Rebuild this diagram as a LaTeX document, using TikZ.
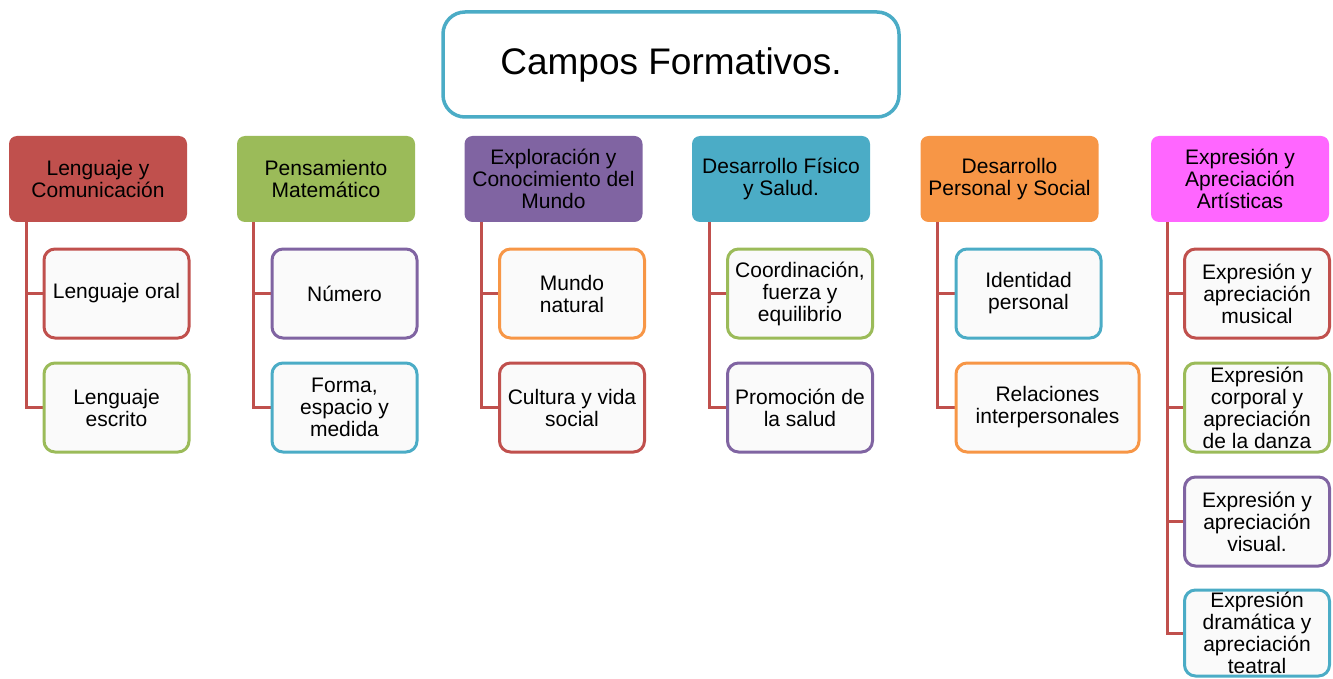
\documentclass[tikz,border=0pt]{standalone}
\usepackage{fontspec}
\setmainfont{Liberation Sans}
\usetikzlibrary{backgrounds}
\definecolor{cRed}{HTML}{C0504D}
\definecolor{cGreen}{HTML}{9BBB59}
\definecolor{cPurple}{HTML}{8064A2}
\definecolor{cBlue}{HTML}{4BACC6}
\definecolor{cOrange}{HTML}{F79646}
\definecolor{cPink}{HTML}{FF66FF}
\tikzset{
  txt/.style={font=\fontsize{21}{22}\selectfont, align=center, text=black, inner sep=0pt},
  titlebox/.style={draw=cBlue, line width=3.5pt, rounded corners=22pt, fill=white,
    minimum width=456pt, minimum height=105pt, inner sep=0pt, font=\fontsize{37}{40}\selectfont},
  hdr/.style={txt, rounded corners=8pt, minimum width=178pt, minimum height=86pt},
  leaf/.style={txt, draw, line width=3pt, rounded corners=11pt, fill=black!2,
    minimum width=145pt, minimum height=89pt},
  link/.style={draw=cRed, line width=3pt}
}
\begin{document}
\begin{tikzpicture}[x=1pt,y=-1pt]
\useasboundingbox (0,0) rectangle (1333,679);
% title
\node[titlebox] (title) at (671,64.5) {Campos Formativos.};
% headers
\node[hdr, fill=cRed]    (h1) at (98,179)     {Lenguaje y\\Comunicación};
\node[hdr, fill=cGreen]  (h2) at (326,179)    {Pensamiento\\Matemático};
\node[hdr, fill=cPurple] (h3) at (553.5,179)  {Exploración y\\Conocimiento del\\Mundo};
\node[hdr, fill=cBlue]   (h4) at (781,179)    {Desarrollo Físico\\y Salud.};
\node[hdr, fill=cOrange] (h5) at (1009.5,179) {Desarrollo\\Personal y Social};
\node[hdr, fill=cPink]   (h6) at (1240,179)   {Expresión y\\Apreciación\\Artísticas};
% column 1
\node[leaf, draw=cRed]    (c11) at (116.5,293.5) {Lenguaje oral};
\node[leaf, draw=cGreen]  (c12) at (116.5,407.5) {Lenguaje\\escrito};
% column 2
\node[leaf, draw=cPurple] (c21) at (344.5,293.5) {Número};
\node[leaf, draw=cBlue]   (c22) at (344.5,407.5) {Forma,\\espacio y\\medida};
% column 3
\node[leaf, draw=cOrange] (c31) at (572,293.5) {Mundo\\natural};
\node[leaf, draw=cRed]    (c32) at (572,407.5) {Cultura y vida\\social};
% column 4
\node[leaf, draw=cGreen]  (c41) at (800,293.5) {Coordinación,\\fuerza y\\equilibrio};
\node[leaf, draw=cPurple] (c42) at (800,407.5) {Promoción de\\la salud};
% column 5
\node[leaf, draw=cBlue]   (c51) at (1028.5,293.5) {Identidad\\personal};
\node[leaf, draw=cOrange, minimum width=183pt] (c52) at (1047.5,407.5) {Relaciones\\interpersonales};
% column 6
\node[leaf, draw=cRed]    (c61) at (1257,293.5) {Expresión y\\apreciación\\musical};
\node[leaf, draw=cGreen]  (c62) at (1257,407.5) {Expresión\\corporal y\\apreciación\\de la danza};
\node[leaf, draw=cPurple] (c63) at (1257,521.5) {Expresión y\\apreciación\\visual.};
\node[leaf, draw=cBlue, minimum height=86pt] (c64) at (1257,633) {Expresión\\dramática y\\apreciación\\teatral};
% spine coordinates
\coordinate (v1) at (26,0);
\coordinate (v2) at (253,0);
\coordinate (v3) at (481,0);
\coordinate (v4) at (709,0);
\coordinate (v5) at (937,0);
\coordinate (v6) at (1167,0);
\begin{scope}[on background layer]
\draw[link] (h1.south -| v1) |- (c12.west);
\draw[link] (c11.west -| v1) -- (c11.west);
\draw[link] (h2.south -| v2) |- (c22.west);
\draw[link] (c21.west -| v2) -- (c21.west);
\draw[link] (h3.south -| v3) |- (c32.west);
\draw[link] (c31.west -| v3) -- (c31.west);
\draw[link] (h4.south -| v4) |- (c42.west);
\draw[link] (c41.west -| v4) -- (c41.west);
\draw[link] (h5.south -| v5) |- (c52.west);
\draw[link] (c51.west -| v5) -- (c51.west);
\draw[link] (h6.south -| v6) |- (c64.west);
\draw[link] (c61.west -| v6) -- (c61.west);
\draw[link] (c62.west -| v6) -- (c62.west);
\draw[link] (c63.west -| v6) -- (c63.west);
\end{scope}
\end{tikzpicture}
\end{document}
